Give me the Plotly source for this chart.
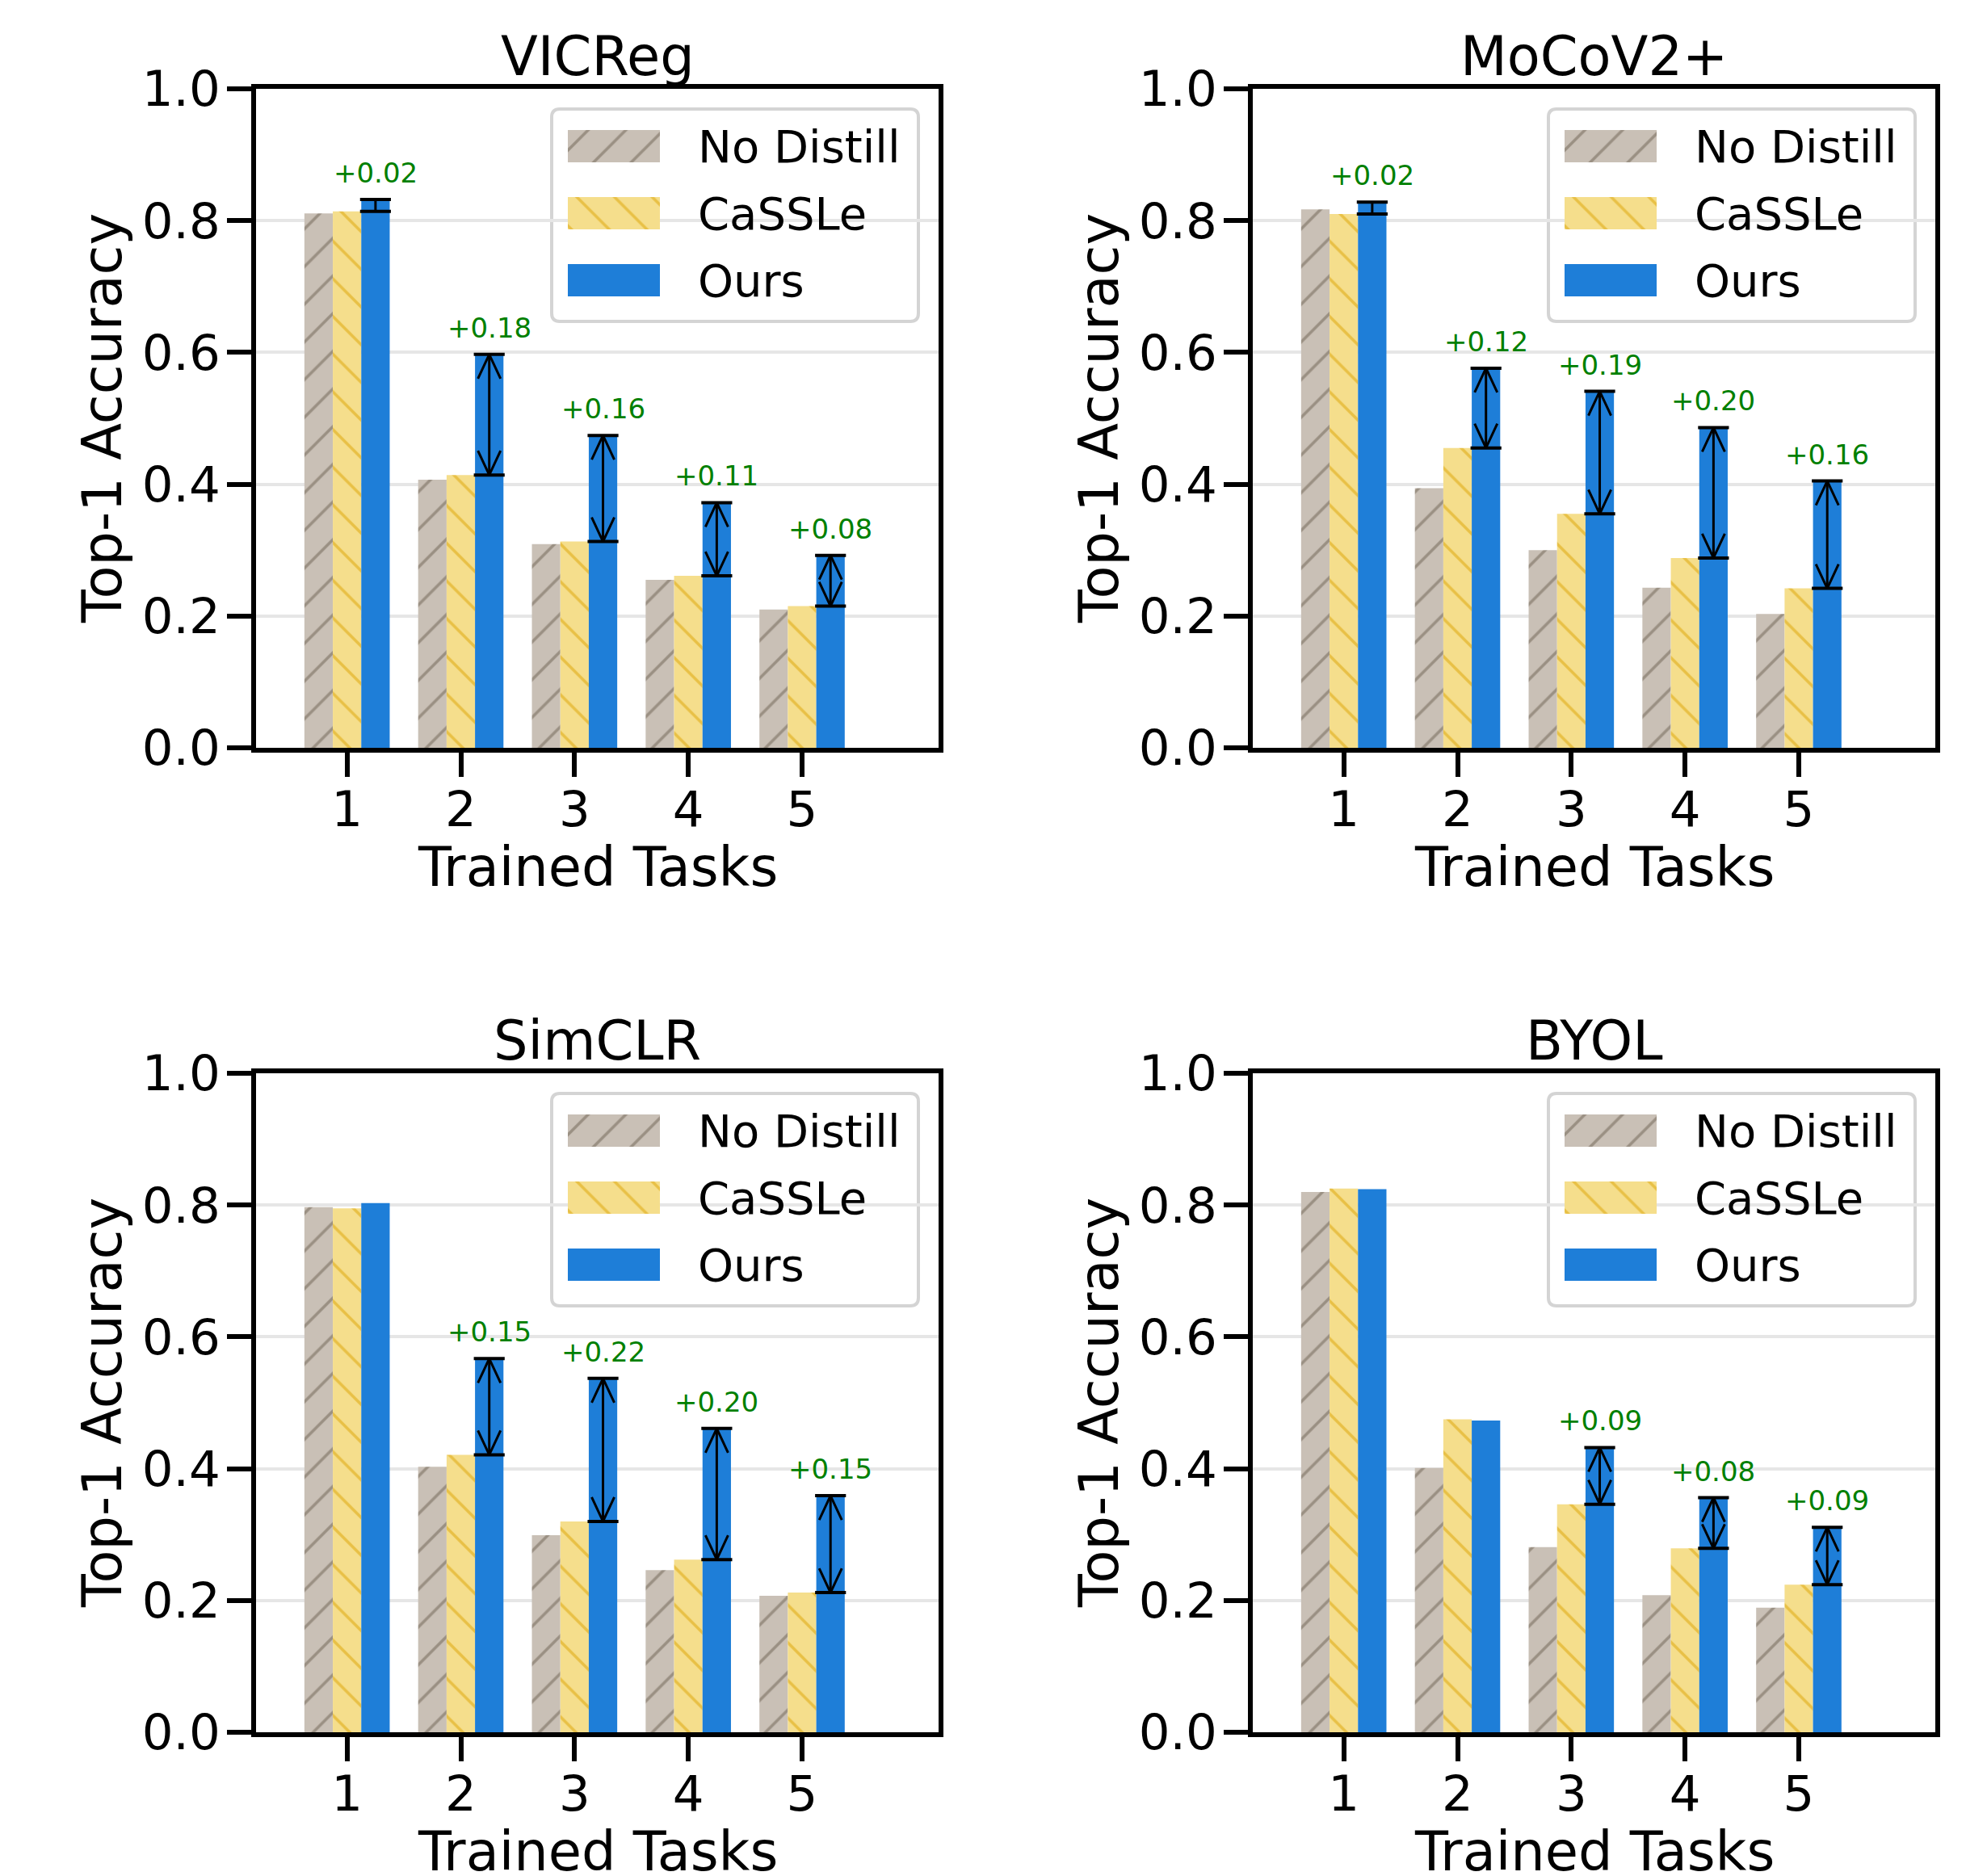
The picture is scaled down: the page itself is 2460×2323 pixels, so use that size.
import plotly.graph_objects as go

# ---------------- data ----------------
tasks = [1, 2, 3, 4, 5]
tick_labels = ["1", "2", "3", "4", "5"]
series_names = ["No Distill", "CaSSLe", "Ours"]
titles = ["VICReg", "MoCoV2+", "SimCLR", "BYOL"]

vicreg_nodistill = [0.811, 0.407, 0.309, 0.255, 0.210]
vicreg_cassle = [0.814, 0.414, 0.313, 0.261, 0.215]
vicreg_ours = [0.832, 0.597, 0.474, 0.372, 0.292]

moco_nodistill = [0.817, 0.394, 0.300, 0.243, 0.203]
moco_cassle = [0.810, 0.455, 0.355, 0.288, 0.242]
moco_ours = [0.828, 0.576, 0.541, 0.486, 0.405]

simclr_nodistill = [0.797, 0.403, 0.299, 0.246, 0.207]
simclr_cassle = [0.795, 0.421, 0.320, 0.262, 0.212]
simclr_ours = [0.803, 0.567, 0.537, 0.461, 0.359]

byol_nodistill = [0.820, 0.401, 0.281, 0.208, 0.189]
byol_cassle = [0.825, 0.475, 0.346, 0.279, 0.224]
byol_ours = [0.824, 0.473, 0.432, 0.356, 0.311]

panels = [
    (vicreg_nodistill, vicreg_cassle, vicreg_ours),
    (moco_nodistill, moco_cassle, moco_ours),
    (simclr_nodistill, simclr_cassle, simclr_ours),
    (byol_nodistill, byol_cassle, byol_ours),
]

# ---------------- style ----------------
W, H = 2460, 2323
PAGE_OFF = 8  # default body margin of the html page
FONT = "DejaVu Sans"
ND_BG, ND_FG = "#c9c0b6", "#6b5f50"
CA_BG, CA_FG = "#f5de8c", "#dca200"
OURS = "#1e7ed8"
GREEN = "#008000"
GRID = "#e6e6e6"
LW = 6

AX_W, AX_H = 851, 822
LEFTS = [314, 1548, 314, 1548]
TOPS = [107, 107, 1326, 1326]
X_RANGE = [0.2, 6.2]
BAR_W = 0.25
PX_PER_X = (AX_W - LW) / (X_RANGE[1] - X_RANGE[0])
PX_PER_Y = (AX_H - LW) / 1.0


def fx(px):
    return (px - PAGE_OFF) / W


def fy(py):
    return 1 - (py - PAGE_OFF) / H


fig = go.Figure()
annotations = []
shapes = []
layout_axes = {}

patterns = [
    dict(shape="/", fgcolor=ND_FG, bgcolor=ND_BG, size=33, solidity=0.11),
    dict(shape="\\", fgcolor=CA_FG, bgcolor=CA_BG, size=33, solidity=0.11),
    None,
]
colors = [ND_BG, CA_BG, OURS]

for i, (nd, ca, ours) in enumerate(panels):
    k = i + 1
    xa, ya = f"x{k}", f"y{k}"
    L, T = LEFTS[i], TOPS[i]
    series = [nd, ca, ours]
    for s in range(3):
        marker = dict(color=colors[s], line=dict(width=0))
        if patterns[s] is not None:
            marker["pattern"] = patterns[s]
        fig.add_trace(go.Bar(
            x=tasks, y=series[s], name=series_names[s], width=BAR_W,
            offset=(s - 1.5) * BAR_W, marker=marker,
            xaxis=xa, yaxis=ya, showlegend=False,
        ))

    # gain arrows
    hx = 14 / PX_PER_X
    hy = 30 / PX_PER_Y
    cap = BAR_W / 2 + 1.5 / PX_PER_X
    cx, cy, sx, sy = [], [], [], []
    for t, c, o in zip(tasks, ca, ours):
        d = o - c
        if d <= 0.01:
            continue
        xc = t + BAR_W
        cx += [xc - cap, xc + cap, None, xc - cap, xc + cap, None]
        cy += [o, o, None, c, c, None]
        sx += [xc, xc, None]
        sy += [c, o, None]
        if d * PX_PER_Y > 40:
            sx += [xc - hx, xc, xc + hx, None, xc - hx, xc, xc + hx, None]
            sy += [o - hy, o, o - hy, None, c + hy, c, c + hy, None]
        annotations.append(dict(
            x=xc, y=o, xref=xa, yref=ya, text=f"+{d:.2f}", showarrow=False,
            yanchor="bottom", xanchor="center", yshift=11,
            font=dict(family=FONT, size=34, color=GREEN),
        ))
    fig.add_trace(go.Scatter(x=sx, y=sy, mode="lines", line=dict(color="black", width=3),
                             xaxis=xa, yaxis=ya, showlegend=False, hoverinfo="skip"))
    fig.add_trace(go.Scatter(x=cx, y=cy, mode="lines", line=dict(color="black", width=4),
                             xaxis=xa, yaxis=ya, showlegend=False, hoverinfo="skip"))

    axis_common = dict(
        showline=True, linecolor="black", linewidth=LW, mirror=True,
        ticks="outside", ticklen=30, tickwidth=LW, tickcolor="black",
        tickfont=dict(family=FONT, size=61, color="black"), zeroline=False,
        automargin=False,
    )
    # plotly draws axis lines half a line width outside the domain
    layout_axes[f"xaxis{k}"] = dict(
        domain=[fx(L + LW / 2), fx(L + AX_W - LW / 2)], anchor=ya, range=X_RANGE,
        tickvals=tasks, ticktext=tick_labels, showgrid=False, ticklabelstandoff=-12,
        **axis_common,
    )
    layout_axes[f"yaxis{k}"] = dict(
        domain=[fy(T + AX_H - LW / 2), fy(T + LW / 2)], anchor=xa, range=[0, 1], dtick=0.2,
        tickformat=".1f", showgrid=True, gridcolor=GRID, gridwidth=4, ticklabelstandoff=-4,
        **axis_common,
    )

    # titles and axis labels
    annotations.append(dict(x=fx(L + AX_W / 2), y=fy(T - 37), xref="paper", yref="paper",
                            text=titles[i], showarrow=False, xanchor="center", yanchor="middle",
                            font=dict(family=FONT, size=67, color="black")))
    annotations.append(dict(x=fx(L + AX_W / 2), y=fy(T + AX_H + 145), xref="paper", yref="paper",
                            text="Trained Tasks", showarrow=False, xanchor="center", yanchor="middle",
                            font=dict(family=FONT, size=67, color="black")))
    annotations.append(dict(x=fx(L - 187), y=fy(T + AX_H / 2), xref="paper", yref="paper",
                            text="Top-1 Accuracy", showarrow=False, xanchor="center", yanchor="middle",
                            textangle=-90, font=dict(family=FONT, size=67, color="black")))

    # legend box (rounded)
    bx0, bx1, by0, by1 = L + 369, L + 823, T + 28, T + 291
    r = 10
    p = (f"M {fx(bx0 + r)},{fy(by0)} L {fx(bx1 - r)},{fy(by0)} "
         f"Q {fx(bx1)},{fy(by0)} {fx(bx1)},{fy(by0 + r)} L {fx(bx1)},{fy(by1 - r)} "
         f"Q {fx(bx1)},{fy(by1)} {fx(bx1 - r)},{fy(by1)} L {fx(bx0 + r)},{fy(by1)} "
         f"Q {fx(bx0)},{fy(by1)} {fx(bx0)},{fy(by1 - r)} L {fx(bx0)},{fy(by0 + r)} "
         f"Q {fx(bx0)},{fy(by0)} {fx(bx0 + r)},{fy(by0)} Z")
    shapes.append(dict(type="path", path=p, xref="paper", yref="paper",
                       fillcolor="rgba(255,255,255,0.85)", line=dict(color="#d4d4d4", width=4),
                       layer="below"))
    # legend swatches on a small helper axis
    kk = k + 4
    lxa, lya = f"x{kk}", f"y{kk}"
    row_ys = [2, 1, 0]
    for s in range(3):
        marker = dict(color=colors[s], line=dict(width=0))
        if patterns[s] is not None:
            marker["pattern"] = patterns[s]
        fig.add_trace(go.Bar(
            x=[1], y=[row_ys[s]], orientation="h", width=40 / 83, offset=-20 / 83,
            marker=marker, xaxis=lxa, yaxis=lya, showlegend=False, hoverinfo="skip",
        ))
        annotations.append(dict(x=fx(L + 548), y=fy(T + 74 + 83 * s), xref="paper", yref="paper",
                                text=series_names[s], showarrow=False, xanchor="left",
                                yanchor="middle", font=dict(family=FONT, size=56, color="black")))
    layout_axes[f"xaxis{kk}"] = dict(domain=[fx(L + 389), fx(L + 503)], anchor=lya,
                                     range=[0, 1], visible=False, fixedrange=True,
                                     automargin=False)
    layout_axes[f"yaxis{kk}"] = dict(domain=[fy(T + 281.5), fy(T + 32.5)], anchor=lxa,
                                     range=[-0.5, 2.5], visible=False, fixedrange=True,
                                     automargin=False)

fig.update_layout(
    width=W, height=H, margin=dict(l=0, r=0, t=0, b=0, autoexpand=False),
    paper_bgcolor="white", plot_bgcolor="white",
    barmode="overlay", showlegend=False,
    annotations=annotations, shapes=shapes,
    font=dict(family=FONT),
    **layout_axes,
)

fig.write_html("out.html")
